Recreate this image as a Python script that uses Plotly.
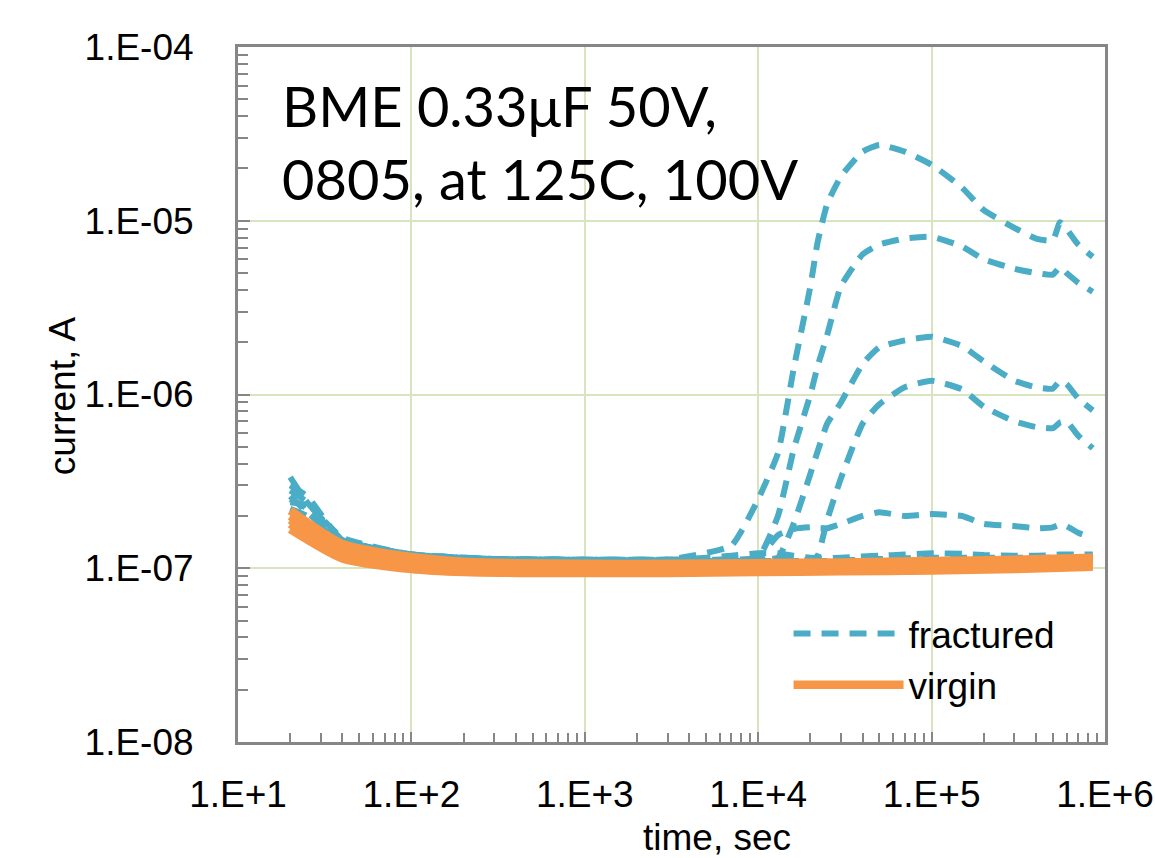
import plotly.graph_objects as go

# ---------------- data ----------------
T_F = [20, 25, 40, 100, 300, 1000, 3000, 7000, 10000, 13000, 16000, 20000, 22000,
       25000, 30000, 40000, 50000, 70000, 100000, 150000, 200000, 300000, 400000,
       500000, 550000, 600000, 700000, 850000]

frac_a = [3.35e-7, 2.4e-7, 1.5e-7, 1.2e-7, 1.13e-7, 1.12e-7, 1.12e-7, 1.35e-7, 2.5e-7, 4.6e-7,
          1.4e-6, 4.2e-6, 7.5e-6, 1.25e-5, 1.8e-5, 2.5e-5, 2.73e-5, 2.5e-5, 2.1e-5, 1.55e-5,
          1.15e-5, 9.1e-6, 7.9e-6, 7.7e-6, 9.8e-6, 9.0e-6, 7.3e-6, 6.2e-6]
frac_b = [3.0e-7, 2.6e-7, 1.45e-7, 1.2e-7, 1.13e-7, 1.12e-7, 1.12e-7, 1.12e-7, 1.15e-7, 2.0e-7,
          4.8e-7, 1.0e-6, 1.45e-6, 2.2e-6, 4.2e-6, 6.4e-6, 7.3e-6, 7.9e-6, 8.1e-6, 7.1e-6,
          6.0e-6, 5.3e-6, 5.0e-6, 4.9e-6, 5.4e-6, 5.0e-6, 4.4e-6, 3.9e-6]
frac_c = [2.8e-7, 2.4e-7, 1.45e-7, 1.2e-7, 1.13e-7, 1.12e-7, 1.12e-7, 1.12e-7, 1.12e-7, 1.15e-7,
          1.8e-7, 3.5e-7, 4.7e-7, 6.8e-7, 9.0e-7, 1.5e-6, 1.87e-6, 2.05e-6, 2.15e-6, 1.9e-6,
          1.55e-6, 1.2e-6, 1.1e-6, 1.08e-6, 1.2e-6, 1.15e-6, 9.5e-7, 8.1e-7]
frac_d = [2.6e-7, 2.1e-7, 1.45e-7, 1.2e-7, 1.13e-7, 1.12e-7, 1.12e-7, 1.12e-7, 1.13e-7, 1.12e-7,
          1.12e-7, 1.12e-7, 1.18e-7, 1.9e-7, 3.3e-7, 6.8e-7, 8.8e-7, 1.1e-6, 1.2e-6, 1.07e-6,
          8.5e-7, 7.0e-7, 6.5e-7, 6.4e-7, 6.9e-7, 7.0e-7, 5.8e-7, 4.9e-7]
frac_e = [2.5e-7, 2.2e-7, 1.4e-7, 1.18e-7, 1.12e-7, 1.11e-7, 1.11e-7, 1.12e-7, 1.15e-7, 1.55e-7,
          1.68e-7, 1.72e-7, 1.7e-7, 1.7e-7, 1.8e-7, 2.0e-7, 2.1e-7, 2.0e-7, 2.05e-7, 2.0e-7,
          1.8e-7, 1.75e-7, 1.7e-7, 1.72e-7, 1.78e-7, 1.75e-7, 1.6e-7, 1.5e-7]
frac_f = [2.4e-7, 2.3e-7, 1.45e-7, 1.18e-7, 1.12e-7, 1.11e-7, 1.11e-7, 1.18e-7, 1.22e-7, 1.22e-7,
          1.18e-7, 1.15e-7, 1.14e-7, 1.14e-7, 1.15e-7, 1.17e-7, 1.18e-7, 1.2e-7, 1.22e-7, 1.21e-7,
          1.19e-7, 1.18e-7, 1.18e-7, 1.19e-7, 1.2e-7, 1.2e-7, 1.2e-7, 1.2e-7]
frac_g = [2.2e-7, 2.0e-7, 1.4e-7, 1.17e-7, 1.11e-7, 1.1e-7, 1.1e-7, 1.1e-7, 1.1e-7, 1.1e-7,
          1.1e-7, 1.1e-7, 1.1e-7, 1.1e-7, 1.11e-7, 1.12e-7, 1.13e-7, 1.14e-7, 1.15e-7, 1.15e-7,
          1.15e-7, 1.15e-7, 1.15e-7, 1.15e-7, 1.16e-7, 1.16e-7, 1.16e-7, 1.17e-7]

T_V = [20, 40, 100, 200, 400, 1000, 3000, 10000, 30000, 100000, 300000, 850000]
virg_1 = [2.15e-7, 1.38e-7, 1.16e-7, 1.09e-7, 1.07e-7, 1.06e-7, 1.06e-7, 1.07e-7, 1.08e-7, 1.1e-7, 1.12e-7, 1.15e-7]
virg_2 = [2.0e-7, 1.3e-7, 1.11e-7, 1.05e-7, 1.03e-7, 1.02e-7, 1.02e-7, 1.03e-7, 1.04e-7, 1.06e-7, 1.08e-7, 1.11e-7]
virg_3 = [1.9e-7, 1.25e-7, 1.06e-7, 1.01e-7, 0.99e-7, 0.99e-7, 0.99e-7, 1.0e-7, 1.01e-7, 1.03e-7, 1.05e-7, 1.08e-7]
virg_4 = [1.8e-7, 1.2e-7, 1.03e-7, 0.98e-7, 0.97e-7, 0.97e-7, 0.97e-7, 0.98e-7, 0.99e-7, 1.0e-7, 1.02e-7, 1.05e-7]
virg_5 = [1.68e-7, 1.14e-7, 0.99e-7, 0.95e-7, 0.94e-7, 0.94e-7, 0.94e-7, 0.95e-7, 0.96e-7, 0.97e-7, 0.99e-7, 1.02e-7]

x_tickvals = [1e1, 1e2, 1e3, 1e4, 1e5, 1e6]
x_ticktext = ["1.E+1", "1.E+2", "1.E+3", "1.E+4", "1.E+5", "1.E+6"]
y_tickvals = [1e-8, 1e-7, 1e-6, 1e-5, 1e-4]
y_ticktext = ["1.E-08", "1.E-07", "1.E-06", "1.E-05", "1.E-04"]

fractured = [frac_a, frac_b, frac_c, frac_d, frac_e, frac_f, frac_g]
virgin = [virg_1, virg_2, virg_3, virg_4, virg_5]

# ---------------- figure ----------------
BLUE = "#4BACC6"
ORANGE = "#F79646"
GRID = "#D7E4BD"
AXIS = "#868686"
FONT = "Liberation Sans, Arial, sans-serif"

fig = go.Figure()
for i, ys in enumerate(fractured):
    fig.add_trace(go.Scatter(
        x=T_F, y=ys, mode="lines", name="fractured", legendgroup="fractured",
        showlegend=(i == 0),
        line=dict(color=BLUE, width=6, dash="17px,11px", shape="spline", smoothing=0.45)))
for i, ys in enumerate(virgin):
    fig.add_trace(go.Scatter(
        x=T_V, y=ys, mode="lines", name="virgin", legendgroup="virgin",
        showlegend=(i == 0),
        line=dict(color=ORANGE, width=8.5, shape="spline", smoothing=0.6)))

fig.update_xaxes(
    type="log", range=[1, 6], tickvals=x_tickvals, ticktext=x_ticktext,
    showgrid=True, gridcolor=GRID, gridwidth=2,
    showline=True, linecolor=AXIS, linewidth=3, mirror=True,
    ticks="inside", ticklen=10, tickwidth=2, tickcolor=AXIS,
    minor=dict(ticks="inside", ticklen=9, tickwidth=2, tickcolor=AXIS, dtick="D1", showgrid=False),
    tickfont=dict(family=FONT, size=37, color="#000000"),
    ticklabelstandoff=18, zeroline=False, automargin=False,
)
fig.update_yaxes(
    type="log", range=[-8, -4], tickvals=y_tickvals, ticktext=y_ticktext,
    showgrid=True, gridcolor=GRID, gridwidth=2,
    showline=True, linecolor=AXIS, linewidth=3, mirror=True,
    ticks="inside", ticklen=12, tickwidth=2, tickcolor=AXIS,
    minor=dict(ticks="inside", ticklen=10, tickwidth=2, tickcolor=AXIS, dtick="D1", showgrid=False),
    tickfont=dict(family=FONT, size=37, color="#000000"),
    ticklabelstandoff=34, zeroline=False, automargin=False,
)

fig.add_annotation(
    text="BME 0.33μF 50V,<br>0805, at 125C, 100V", xref="paper", yref="paper",
    x=0.048, y=0.967, xanchor="left", yanchor="top", align="left", showarrow=False,
    font=dict(family="Lato, sans-serif", size=56, color="#000000"))
fig.add_annotation(
    text="current, A", xref="paper", yref="paper", x=-0.203, y=0.499,
    textangle=-90, showarrow=False, xanchor="center", yanchor="middle",
    font=dict(family=FONT, size=37, color="#000000"))
fig.add_annotation(
    text="time, sec", xref="paper", yref="paper", x=0.553, y=-0.138,
    showarrow=False, xanchor="center", yanchor="middle",
    font=dict(family=FONT, size=37, color="#000000"))

fig.update_layout(
    width=1155, height=858,
    margin=dict(l=238, r=50, t=47, b=116),
    plot_bgcolor="#FFFFFF", paper_bgcolor="#FFFFFF",
    legend=dict(x=0.635, y=0.2, xanchor="left", yanchor="top",
                bgcolor="rgba(0,0,0,0)", itemwidth=110, tracegroupgap=0,
                font=dict(family=FONT, size=37, color="#000000")),
)

fig.write_html("out.html", config={"displayModeBar": False},
               post_script="document.body.style.margin='0';")
